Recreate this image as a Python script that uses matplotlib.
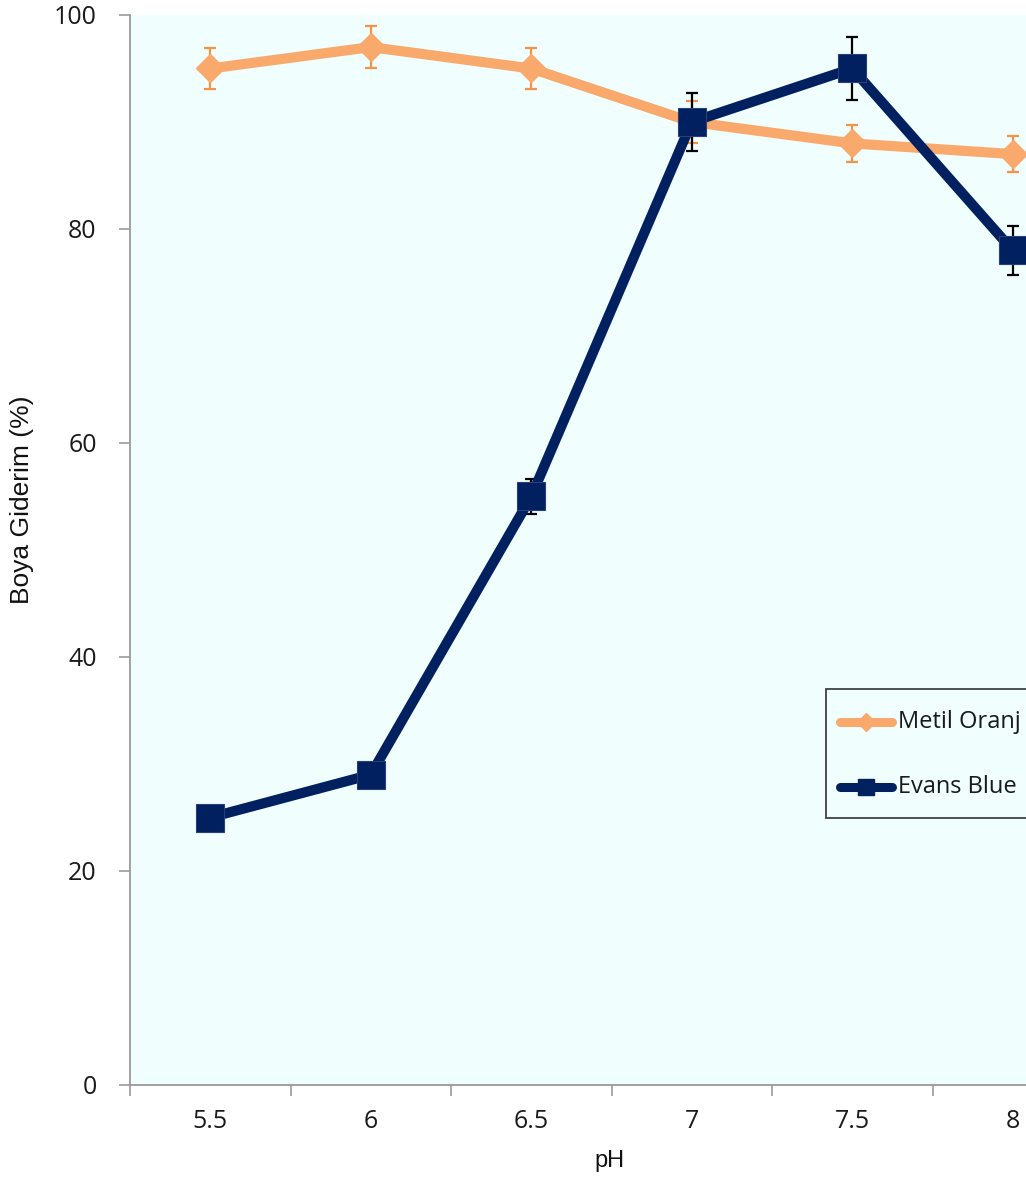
import matplotlib
matplotlib.use("Agg")
import matplotlib.pyplot as plt
from matplotlib.lines import Line2D
from matplotlib.patches import Rectangle
import numpy as np

plt.rcParams['font.family'] = ['Open Sans', 'DejaVu Sans']

categories = ["5.5", "6", "6.5", "7", "7.5", "8"]
series_names = ["Metil Oranj", "Evans Blue"]
metil_oranj = [95, 97, 95, 90, 88, 87]
metil_oranj_err = [1.9, 2.0, 1.9, 2.0, 1.7, 1.7]
evans_blue = [25, 29, 55, 90, 95, 78]
evans_blue_err = [0.5, 0.5, 1.6, 2.7, 2.9, 2.3]
y_ticks = [0, 20, 40, 60, 80, 100]

W, H = 1026, 1178
fig = plt.figure(figsize=(W / 100, H / 100), dpi=100)
fig.patch.set_facecolor('white')
ax = fig.add_axes([130 / W, 1 - 1085 / H, 963 / W, 1070 / H])
bg = '#F0FEFE'
ax.set_facecolor(bg)

x = np.arange(len(categories))
orange = '#F9A96B'
orange_err = '#F39347'
navy = '#00205F'

ax.errorbar(x, metil_oranj, yerr=metil_oranj_err, fmt='none', ecolor=orange_err,
            elinewidth=1.6, capsize=4.5, capthick=1.6, zorder=2)
ax.plot(x, metil_oranj, color=orange, lw=7.3, marker='D', markersize=14,
        markerfacecolor=orange, markeredgecolor=orange, zorder=3,
        solid_joinstyle='round', solid_capstyle='round')
ax.errorbar(x, evans_blue, yerr=evans_blue_err, fmt='none', ecolor='black',
            elinewidth=1.6, capsize=4.5, capthick=1.6, zorder=4)
ax.plot(x, evans_blue, color=navy, lw=7.3, marker='s', markersize=19.5,
        markerfacecolor=navy, markeredgecolor='#2a3f7a', markeredgewidth=0.8, zorder=5,
        solid_joinstyle='round', solid_capstyle='round')

ax.set_xlim(-0.5, 5.5)
ax.set_ylim(0, 100)
ax.set_yticks(y_ticks)
ax.set_yticklabels([str(v) for v in y_ticks], fontsize=18, color='#1a1a1a')
ax.set_xticks(np.arange(-0.5, 5.0, 1.0))
ax.set_xticklabels([])
ax.set_xticks(x, minor=True)
ax.set_xticklabels(categories, minor=True, fontsize=18, color='#1a1a1a')
ax.tick_params(axis='x', which='major', direction='out', length=8, width=1.2, color='#999999')
ax.tick_params(axis='x', which='minor', length=0, pad=17)
ax.tick_params(axis='y', direction='out', length=8, width=1.2, color='#999999', pad=16)

for s in ['top', 'right']:
    ax.spines[s].set_visible(False)
for s in ['left', 'bottom']:
    ax.spines[s].set_color('#999999')
    ax.spines[s].set_linewidth(1.3)

fig.text(22 / W, 1 - 500 / H, 'Boya Giderim (%)', rotation=90, ha='center', va='center',
         fontsize=19, color='#111111', family=['Liberation Sans', 'DejaVu Sans'])
fig.text(610 / W, 1 - 1167 / H, 'pH', ha='center', va='baseline', fontsize=17,
         color='#111111', family=['Liberation Sans', 'DejaVu Sans'])

# Legend drawn manually (box is clipped by the right edge of the image)
def px(xp, yp):
    return xp / W, 1 - yp / H

box = Rectangle(px(826, 818), 250 / W, (818 - 689) / H, transform=fig.transFigure,
                facecolor=bg, edgecolor='#333333', linewidth=1.2, zorder=10)
fig.add_artist(box)
legend_styles = [
    dict(color=orange, marker='D', markersize=9, mfc=orange, mec=orange),
    dict(color=navy, marker='s', markersize=12, mfc=navy, mec=navy),
]
legend_rows = [722, 787]
for name, st, yr in zip(series_names, legend_styles, legend_rows):
    x0, y0 = px(840, yr)
    x1, _ = px(892, yr)
    fig.add_artist(Line2D([x0, x1], [y0, y0], transform=fig.transFigure, lw=6.5,
                          color=st['color'], solid_capstyle='round', zorder=11))
    xm, _ = px(866, yr)
    fig.add_artist(Line2D([xm], [y0], transform=fig.transFigure, lw=0, marker=st['marker'],
                          markersize=st['markersize'], markerfacecolor=st['mfc'],
                          markeredgecolor=st['mec'], zorder=12))
    tx, _ = px(898, yr)
    fig.text(tx, y0, name, ha='left', va='center', fontsize=17, color='#1a1a1a', zorder=13)

fig.savefig('out.png', dpi=100)
